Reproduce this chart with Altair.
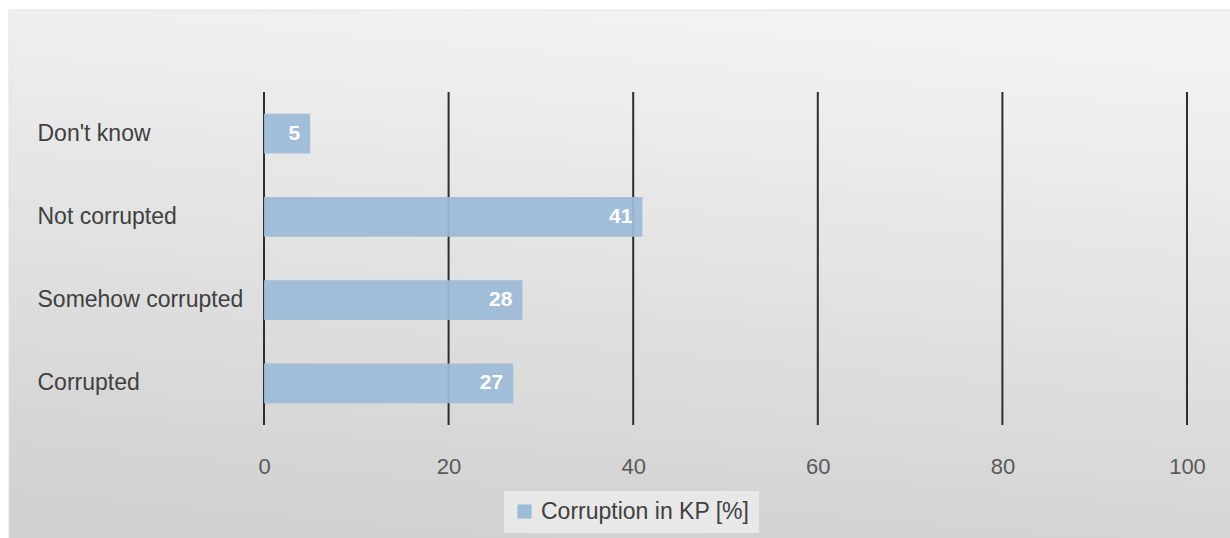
import altair as alt
import pandas as pd

categories = ["Don't know", "Not corrupted", "Somehow corrupted", "Corrupted"]
values = [5, 41, 28, 27]
series_name = "Corruption in KP [%]"
x_ticks = [0, 20, 40, 60, 80, 100]

BAR = "#9dbad6"
W, H = 923, 333
PL, PT, PR, PB = 264, 92, 43, 113
FONT = "Liberation Sans"

df = pd.DataFrame({"category": categories, "value": values, "series": [series_name] * len(categories)})
grid_df = pd.DataFrame({"t": x_ticks})

xscale = alt.Scale(domain=[0, 100], nice=False)
yscale = alt.Scale(domain=categories, paddingInner=0.52, paddingOuter=0.26)

x_axis = alt.Axis(values=x_ticks, grid=False, domain=False, ticks=False, title=None, zindex=1,
                  labelFlush=False, labelOverlap=False,
                  labelFont=FONT, labelFontSize=22, labelColor="#5a5a5a", labelPadding=31)

gradient = alt.Gradient(
    gradient="linear",
    stops=[alt.GradientStop(color="#f3f3f3", offset=0), alt.GradientStop(color="#d1d1d1", offset=1)],
    x1=0.6, y1=0, x2=0.4, y2=1,
)

bg = alt.Chart(pd.DataFrame({"a": [0]})).mark_rect(fill=gradient, stroke="#e2e2e2", strokeWidth=1).encode(
    x=alt.value(-(PL - 9)), x2=alt.value(W + PR + 2),
    y=alt.value(-(PT - 10)), y2=alt.value(H + PB + 2),
)

grid = alt.Chart(grid_df).mark_rule(color="#2e2e2e", strokeWidth=2).encode(
    x=alt.X("t:Q", scale=xscale, axis=x_axis),
)

bars = alt.Chart(df).mark_bar(opacity=0.93).encode(
    x=alt.X("value:Q", scale=xscale, axis=x_axis),
    y=alt.Y("category:N", scale=yscale, sort=categories,
            axis=alt.Axis(domain=False, ticks=False, grid=False, title=None, labelAlign="left", zindex=1,
                          labelPadding=227, labelLimit=400, labelFont=FONT, labelFontSize=23,
                          labelColor="#404040")),
    color=alt.Color("series:N", scale=alt.Scale(domain=[series_name], range=[BAR]),
                    legend=alt.Legend(title=None, orient="none", legendX=240, legendY=399, zindex=1,
                                      symbolType="square", symbolSize=200, symbolOpacity=1,
                                      symbolStrokeWidth=0, labelFont=FONT, labelFontSize=23,
                                      labelColor="#404040", labelOffset=5, padding=9,
                                      fillColor="#e8e8e8", labelLimit=400)),
)

labels = alt.Chart(df).mark_text(align="right", baseline="middle", dx=-10, color="white",
                                  font=FONT, fontSize=21, fontWeight="bold").encode(
    x=alt.X("value:Q", scale=xscale, axis=x_axis),
    y=alt.Y("category:N", scale=yscale, sort=categories),
    text=alt.Text("value:Q"),
)

chart = alt.layer(bg, grid, bars, labels).properties(
    width=W, height=H,
    autosize=alt.AutoSizeParams(type="none"),
    padding={"left": PL, "top": PT, "right": PR, "bottom": PB},
    background="white",
).configure_view(stroke=None)

chart.save("out.html", embed_options={"renderer": "svg", "actions": False})
